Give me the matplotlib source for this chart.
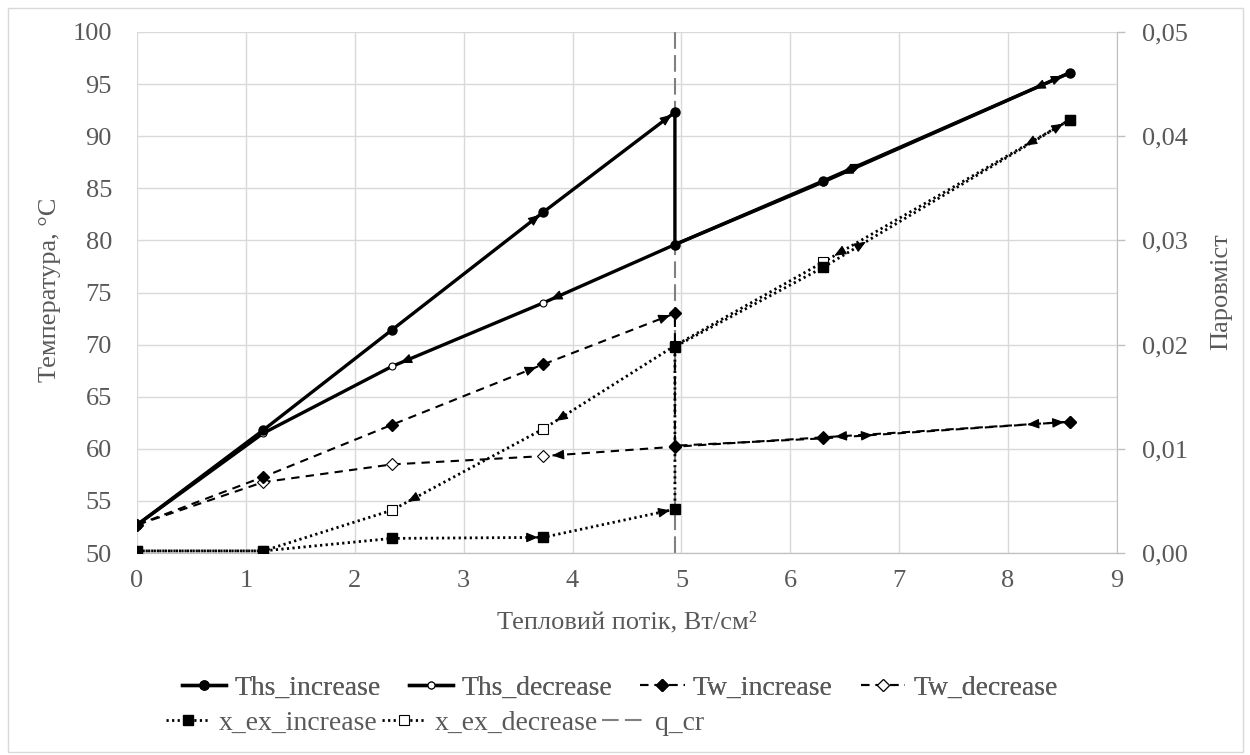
#!/usr/bin/env python3

""" Heat flux vs temperature and vapour quality (hysteresis loop) """

import numpy as np
import matplotlib
matplotlib.use('Agg')
import matplotlib.pyplot as plt
from matplotlib.patches import Rectangle
from matplotlib.ticker import FuncFormatter, MultipleLocator

# heat flux, W/cm2 (increase run, then decrease run)
q_inc = [0, 1.16, 2.34, 3.73, 4.94, 4.94, 6.30, 8.57]
q_dec = [8.57, 6.30, 4.94, 3.73, 2.34, 1.16, 0]

ths_inc = [52.7, 61.8, 71.4, 82.7, 92.3, 79.6, 85.7, 96.1]
ths_dec = [96.1, 85.6, 79.6, 74.0, 67.9, 61.5, 52.7]
tw_inc = [52.7, 57.3, 62.3, 68.1, 73.0, 60.3, 61.0, 62.6]
tw_dec = [62.6, 61.1, 60.2, 59.3, 58.5, 56.8, 52.7]
xex_inc = [0.0002, 0.0002, 0.0014, 0.0015, 0.0042, 0.0198, 0.0274, 0.0416]
xex_dec = [0.0416, 0.0279, 0.0199, 0.0119, 0.0041, 0.0002, 0.0002]

q_cr_x = [4.94, 4.94]
q_cr_y = [50, 100]

# arrow heads: (segment, which end, gap from marker in px)
arrows = {
    'ths_inc': [(2, 'end', 4), (3, 'end', 4), (6, 'start', 33), (6, 'end', 8)],
    'ths_dec': [(0, 'start', 30), (0, 'end', 20), (2, 'end', 8), (3, 'end', 9)],
    'tw_inc': [(2, 'end', 7), (3, 'end', 5), (6, 'start', 40), (6, 'end', 6)],
    'tw_dec': [(0, 'start', 33), (0, 'end', 12), (2, 'end', 9)],
    'xex_inc': [(2, 'end', 5), (3, 'end', 5), (6, 'start', 40), (6, 'end', 8)],
    'xex_dec': [(0, 'start', 42), (0, 'end', 13), (2, 'end', 15), (3, 'end', 18)],
}

GREY = '#595959'
GRID = '#d9d9d9'
FONT = 'Liberation Serif'


def addArrows(ax, xs, ys, spec, headLen=10):
    tr = ax.transData
    inv = tr.inverted()
    for seg, where, gap in spec:
        p0 = tr.transform((xs[seg], ys[seg]))
        p1 = tr.transform((xs[seg + 1], ys[seg + 1]))
        d = (p1 - p0) / np.hypot(*(p1 - p0))
        tip = p1 - d * gap if where == 'end' else p0 + d * (gap + headLen)
        tail = tip - d * headLen
        ax.annotate(
            '', xy=inv.transform(tip), xytext=inv.transform(tail),
            arrowprops=dict(arrowstyle='-|>,head_length=0.72,head_width=0.3',
                            color='black', lw=0.8, shrinkA=0, shrinkB=0,
                            mutation_scale=10), zorder=6)


def main():
    plt.rcParams.update({'font.family': FONT, 'font.size': 19})
    fig = plt.figure(figsize=(12.5, 7.55), dpi=100)
    ax = fig.add_axes([137 / 1250, 1 - 553 / 755, 980 / 1250, 521 / 755])
    ax2 = ax.twinx()

    ax.set_xlim(0, 9)
    ax.set_ylim(50, 100)
    ax2.set_ylim(0, 0.05)
    ax.xaxis.set_major_locator(MultipleLocator(1))
    ax.yaxis.set_major_locator(MultipleLocator(5))
    ax2.yaxis.set_major_locator(MultipleLocator(0.01))
    ax2.yaxis.set_major_formatter(
        FuncFormatter(lambda v, p: f'{v:.2f}'.replace('.', ',')))

    ax.grid(True, color=GRID, lw=1)
    ax.set_axisbelow(True)
    for a in (ax, ax2):
        for s in ('top', 'left', 'right'):
            a.spines[s].set_visible(False)
        a.spines['bottom'].set_color('#bfbfbf')
    ax2.spines['right'].set_visible(True)
    ax2.spines['right'].set_color('#bfbfbf')
    ax.tick_params(axis='x', length=0, pad=12, colors=GREY, labelsize=19)
    ax.tick_params(axis='y', length=0, pad=18, colors=GREY, labelsize=19)
    ax2.tick_params(axis='y', length=6, width=1, color='#bfbfbf', pad=12,
                    labelcolor=GREY, labelsize=19)

    qcr, = ax.plot(q_cr_x, q_cr_y, color='#808080', lw=1.5,
                   ls=(0, (8, 3)), zorder=1, label='q_cr')
    h1, = ax.plot(q_inc, ths_inc, color='black', lw=2.4, marker='o', ms=6.5,
                  label='Ths_increase', zorder=4)
    h2, = ax.plot(q_dec, ths_dec, color='black', lw=2.4, marker='o', ms=5,
                  mfc='white', mew=0.8, label='Ths_decrease', zorder=3)
    h3, = ax.plot(q_inc, tw_inc, color='black', lw=1.5, ls=(0, (4, 3)),
                  marker='D', ms=6, label='Tw_increase', zorder=4)
    h4, = ax.plot(q_dec, tw_dec, color='black', lw=1.5, ls=(0, (4, 3)),
                  marker='D', ms=6, mfc='white', mew=0.8,
                  label='Tw_decrease', zorder=3)
    h5, = ax2.plot(q_inc, xex_inc, color='black', lw=2, ls=(0, (0.8, 1.2)),
                   marker='s', ms=7, label='x_ex_increase', zorder=4)
    h6, = ax2.plot(q_dec, xex_dec, color='black', lw=2, ls=(0, (0.8, 1.2)),
                   marker='s', ms=6.5, mfc='white', mew=0.8,
                   label='x_ex_decrease', zorder=3)

    addArrows(ax, q_inc, ths_inc, arrows['ths_inc'])
    addArrows(ax, q_dec, ths_dec, arrows['ths_dec'])
    addArrows(ax, q_inc, tw_inc, arrows['tw_inc'])
    addArrows(ax, q_dec, tw_dec, arrows['tw_dec'])
    addArrows(ax2, q_inc, xex_inc, arrows['xex_inc'])
    addArrows(ax2, q_dec, xex_dec, arrows['xex_dec'])

    fig.text(50 / 1250, 1 - 290 / 755, 'Температура, °C', rotation=90,
             ha='center', va='center', color=GREY, fontsize=19)
    fig.text(1221 / 1250, 1 - 292 / 755, 'Паровміст', rotation=90,
             ha='center', va='center', color=GREY, fontsize=19)
    fig.text(627 / 1250, 1 - 622 / 755, 'Тепловий потік, Вт/см²',
             ha='center', va='center', color=GREY, fontsize=19)

    common = dict(frameon=False, handlelength=1.6, handletextpad=0.3,
                  borderpad=0, borderaxespad=0, fontsize=20,
                  labelcolor=GREY, loc='center left')
    leg1 = fig.legend([h1, h2, h3, h4],
                      [h.get_label() for h in (h1, h2, h3, h4)],
                      ncol=4, columnspacing=1.0,
                      bbox_to_anchor=(182 / 1250, 1 - 688 / 755), **common)
    fig.add_artist(leg1)
    fig.legend([h5, h6, qcr], [h.get_label() for h in (h5, h6, qcr)],
               ncol=3, columnspacing=0.15,
               bbox_to_anchor=(166 / 1250, 1 - 723 / 755), **common)

    fig.add_artist(Rectangle((8 / 1250, 3 / 755), 1235 / 1250, 744 / 755,
                             transform=fig.transFigure, fill=False,
                             ec=GRID, lw=1))
    fig.savefig('out.png', dpi=100)


if __name__ == '__main__':
    main()
